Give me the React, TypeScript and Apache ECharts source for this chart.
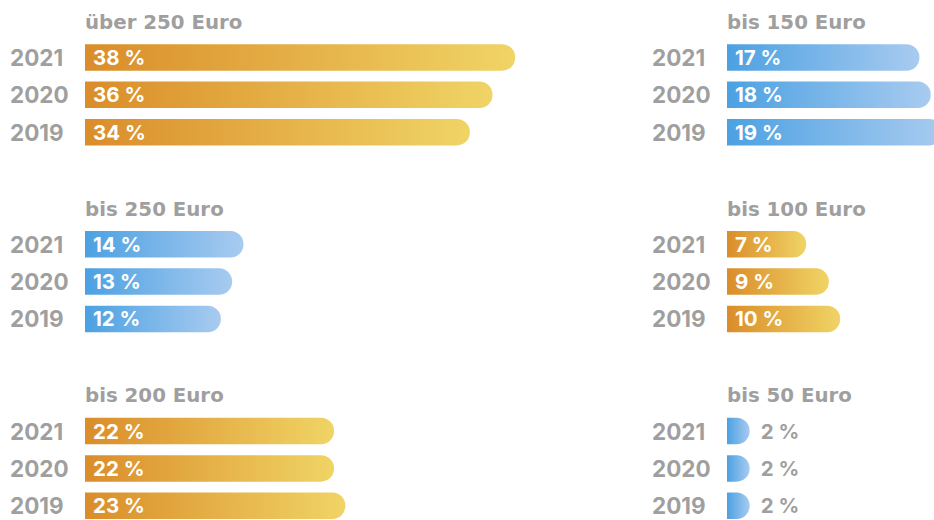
import React, { useEffect, useRef } from "react";
import * as echarts from "echarts";

const years = ["2021", "2020", "2019"];
const panelTitles = ["über 250 Euro", "bis 150 Euro", "bis 250 Euro", "bis 100 Euro", "bis 200 Euro", "bis 50 Euro"];
const ueber250 = [38, 36, 34];
const bis150 = [17, 18, 19];
const bis250 = [14, 13, 12];
const bis100 = [7, 9, 10];
const bis200 = [22, 22, 23];
const bis50 = [2, 2, 2];
const panelValues = [ueber250, bis150, bis250, bis100, bis200, bis50];
const panelPalette = ["orange", "blue", "blue", "orange", "orange", "blue"];
const outsideLabelPanels = [false, false, false, false, false, true];

const GRAY = "#9f9f9f";
const HEAD_FONT = "'DejaVu Sans', sans-serif";
const LABEL_FONT = "Inter, 'Noto Sans', sans-serif";

function grad(kind: string) {
  const stops =
    kind === "orange"
      ? [
          { offset: 0, color: "#da8d2a" },
          { offset: 1, color: "#f0d465" },
        ]
      : [
          { offset: 0, color: "#4ca1e2" },
          { offset: 1, color: "#a8cbf0" },
        ];
  return new echarts.graphic.LinearGradient(0, 0, 1, 0, stops);
}

export default function App() {
  const ref = useRef<HTMLDivElement>(null);
  useEffect(() => {
    if (!ref.current) return;
    const chart = echarts.init(ref.current, null, { renderer: "svg" });
    const colLeft = [85, 727];
    const rowTop = [38.8, 225.6, 412.4];
    const pxPerUnit = 11.32;
    const axisMax = 40;
    const grids: any[] = [];
    const xAxes: any[] = [];
    const yAxes: any[] = [];
    const series: any[] = [];
    const titles: any[] = [];
    panelValues.forEach((vals, i) => {
      const col = i % 2;
      const row = Math.floor(i / 2);
      grids.push({
        left: colLeft[col],
        top: rowTop[row],
        width: axisMax * pxPerUnit,
        height: 112,
        containLabel: false,
        outerBoundsMode: "none",
      });
      xAxes.push({
        type: "value",
        gridIndex: i,
        min: 0,
        max: axisMax,
        show: false,
      });
      yAxes.push({
        type: "category",
        gridIndex: i,
        data: years,
        inverse: true,
        axisLine: { show: false },
        axisTick: { show: false },
        splitLine: { show: false },
        axisLabel: {
          align: "left",
          margin: 75,
          color: GRAY,
          fontSize: 22.5,
          fontWeight: "bold",
          fontFamily: LABEL_FONT,
          padding: [3, 0, 0, 0],
        },
      });
      const outside = outsideLabelPanels[i];
      series.push({
        type: "bar",
        xAxisIndex: i,
        yAxisIndex: i,
        data: vals,
        barWidth: 26.5,
        itemStyle: {
          color: grad(panelPalette[i]),
          borderRadius: [0, 13, 13, 0],
        },
        label: {
          show: true,
          position: outside ? "right" : "insideLeft",
          distance: outside ? 11 : 8,
          formatter: "{c} %",
          color: outside ? GRAY : "#ffffff",
          fontSize: 20.5,
          fontWeight: "bold",
          fontFamily: LABEL_FONT,
        },
      });
      titles.push({
        text: panelTitles[i],
        left: colLeft[col],
        top: rowTop[row] - 26.5,
        padding: 0,
        textStyle: {
          color: GRAY,
          fontSize: 19.8,
          fontWeight: "bold",
          fontFamily: HEAD_FONT,
        },
      });
    });
    chart.setOption({
      animation: false,
      backgroundColor: "#ffffff",
      title: titles,
      grid: grids,
      xAxis: xAxes,
      yAxis: yAxes,
      series,
    });
    return () => chart.dispose();
  }, []);
  return (
    <div
      ref={ref}
      style={{ position: "fixed", left: 0, top: 0, width: 934, height: 520 }}
    />
  );
}
